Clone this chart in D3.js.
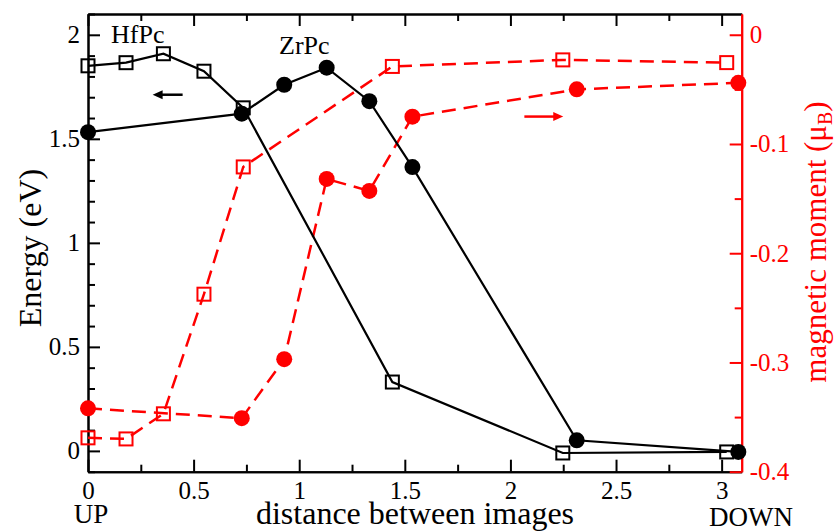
<!DOCTYPE html>
<html>
<head>
<meta charset="utf-8">
<script src="https://cdn.jsdelivr.net/npm/d3@7"></script>
<style>
  body { margin: 0; background: #fff; }
  text { font-family: "Liberation Serif", "Times New Roman", serif; }
</style>
</head>
<body>
<div id="chart"></div>
<script>
// distances along the path (same for energy and moment of each molecule)
var hfDist = [0, 0.180, 0.357, 0.549, 0.735, 1.441, 2.248, 3.024];
var hfEnergy = [1.851, 1.866, 1.909, 1.825, 1.649, 0.331, -0.010, -0.005];
var hfMoment = [-0.369, -0.370, -0.347, -0.2375, -0.121, -0.029, -0.023, -0.0255];

var zrDist = [0, 0.728, 0.929, 1.130, 1.332, 1.536, 2.314, 3.079];
var zrEnergy = [1.532, 1.621, 1.760, 1.842, 1.681, 1.364, 0.051, -0.005];
var zrMoment = [-0.342, -0.351, -0.297, -0.132, -0.143, -0.075, -0.050, -0.044];

var xTicks = [0, 0.5, 1, 1.5, 2, 2.5, 3];
var xMinor = [0.25, 0.75, 1.25, 1.75, 2.25, 2.75];
var yTicks = [0, 0.5, 1, 1.5, 2];
var yMinor = [-0.1, 0.1, 0.2, 0.3, 0.4, 0.6, 0.7, 0.8, 0.9, 1.1, 1.2, 1.3, 1.4, 1.6, 1.7, 1.8, 1.9, 2.1];
var y2Ticks = [0, -0.1, -0.2, -0.3, -0.4];
var y2Minor = [-0.05, -0.15, -0.25, -0.35];

var width = 835, height = 531;
var plot = { left: 88, right: 741.7, top: 14, bottom: 471.7 };
var red = "#ff0000";

var svg = d3.select("#chart").append("svg")
  .attr("width", width)
  .attr("height", height);

var x = d3.scaleLinear().domain([0, 3.095]).range([plot.left, plot.right]);
var y = d3.scaleLinear().domain([-0.1, 2.1]).range([plot.bottom, plot.top]);
var y2 = d3.scaleLinear().domain([-0.4, 0.019]).range([plot.bottom, plot.top]);

function fmt(d) { return String(d); }

// axes, ticks pointing into the frame
function drawAxis(axisFn, scale, major, minor, tx, color)
{
  var g = svg.append("g").attr("transform", tx);
  g.call(axisFn(scale).tickValues(major).tickFormat(fmt).tickSizeInner(-12).tickSizeOuter(0).tickPadding(8));
  g.append("g").call(axisFn(scale).tickValues(minor).tickFormat("").tickSizeInner(-7).tickSizeOuter(0));
  g.attr("font-family", "'Liberation Serif', serif");
  g.selectAll("path.domain, line").attr("stroke", color).attr("stroke-width", 2);
  g.selectAll("text").attr("fill", color).attr("font-size", 25);
  return g;
}

var bottomAxis = drawAxis(d3.axisBottom, x, xTicks, xMinor, `translate(0,${plot.bottom})`, "#000");
bottomAxis.selectAll("text").attr("dy", "0.76em");
var topAxis = drawAxis(d3.axisTop, x, xTicks, xMinor, `translate(0,${plot.top})`, "#000");
topAxis.selectAll("text").remove();
drawAxis(d3.axisLeft, y, yTicks, yMinor, `translate(${plot.left},0)`, "#000");
drawAxis(d3.axisRight, y2, y2Ticks, y2Minor, `translate(${plot.right},0)`, red);

// lines
var lineE = d3.line().x(d => x(d[0])).y(d => y(d[1]));
var lineM = d3.line().x(d => x(d[0])).y(d => y2(d[1]));

var hfE = d3.zip(hfDist, hfEnergy);
var zrE = d3.zip(zrDist, zrEnergy);
var hfM = d3.zip(hfDist, hfMoment);
var zrM = d3.zip(zrDist, zrMoment);

svg.append("path").datum(zrM).attr("d", lineM)
  .attr("fill", "none").attr("stroke", red).attr("stroke-width", 2.5).attr("stroke-dasharray", "14,8");
svg.append("path").datum(hfM).attr("d", lineM)
  .attr("fill", "none").attr("stroke", red).attr("stroke-width", 2.5).attr("stroke-dasharray", "14,8");

svg.selectAll(".zrm").data(zrM).enter().append("circle")
  .attr("cx", d => x(d[0])).attr("cy", d => y2(d[1])).attr("r", 8)
  .attr("fill", red);
svg.selectAll(".hfm").data(hfM).enter().append("rect")
  .attr("x", d => x(d[0]) - 6.5).attr("y", d => y2(d[1]) - 6.5)
  .attr("width", 13).attr("height", 13)
  .attr("fill", "none").attr("stroke", red).attr("stroke-width", 2);

svg.append("path").datum(hfE).attr("d", lineE)
  .attr("fill", "none").attr("stroke", "#000").attr("stroke-width", 2.2);
svg.append("path").datum(zrE).attr("d", lineE)
  .attr("fill", "none").attr("stroke", "#000").attr("stroke-width", 2.2);

svg.selectAll(".hfe").data(hfE).enter().append("rect")
  .attr("x", d => x(d[0]) - 6.5).attr("y", d => y(d[1]) - 6.5)
  .attr("width", 13).attr("height", 13)
  .attr("fill", "none").attr("stroke", "#000").attr("stroke-width", 2);
svg.selectAll(".zre").data(zrE).enter().append("circle")
  .attr("cx", d => x(d[0])).attr("cy", d => y(d[1])).attr("r", 8)
  .attr("fill", "#000");

// arrows showing which axis belongs to which set
function arrow(x1, x2, yy, color)
{
  var dir = x2 > x1 ? 1 : -1;
  svg.append("line")
    .attr("x1", x1).attr("x2", x2 - dir * 8).attr("y1", yy).attr("y2", yy)
    .attr("stroke", color).attr("stroke-width", 2.5);
  svg.append("path")
    .attr("d", `M${x2},${yy} L${x2 - dir * 10},${yy - 4.5} L${x2 - dir * 10},${yy + 4.5} Z`)
    .attr("fill", color);
}
arrow(x(0.448), x(0.306), y(1.712), "#000");
arrow(x(2.066), x(2.250), y2(-0.0749), red);

// labels
svg.append("text").attr("x", 111).attr("y", 42.5).attr("font-size", 26).text("HfPc");
svg.append("text").attr("x", 279).attr("y", 53.5).attr("font-size", 26).text("ZrPc");

svg.append("text").attr("x", 91).attr("y", 523).attr("font-size", 27)
  .attr("text-anchor", "middle").text("UP");
svg.append("text").attr("x", 751).attr("y", 526).attr("font-size", 27)
  .attr("text-anchor", "middle").text("DOWN");

svg.append("text").attr("x", 415).attr("y", 524).attr("font-size", 32)
  .attr("text-anchor", "middle").text("distance between images");

svg.append("text")
  .attr("transform", "translate(41,248) rotate(-90)")
  .attr("font-size", 32).attr("text-anchor", "middle")
  .text("Energy (eV)");

var mlabel = svg.append("text")
  .attr("transform", "translate(826,242) rotate(-90)")
  .attr("font-size", 31).attr("text-anchor", "middle")
  .attr("fill", red);
mlabel.append("tspan").text("magnetic moment (\u03bc");
mlabel.append("tspan").attr("font-size", 20).attr("dy", 6).text("B");
mlabel.append("tspan").attr("dy", -6).text(")");
</script>
</body>
</html>
